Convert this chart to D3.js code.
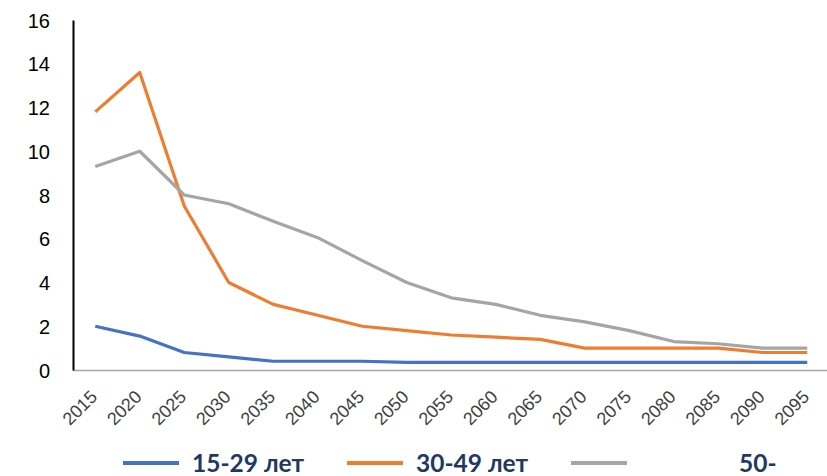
<!DOCTYPE html>
<html>
<head>
<meta charset="utf-8">
<script src="https://cdn.jsdelivr.net/npm/d3@7/dist/d3.min.js"></script>
<style>
  html, body { margin: 0; padding: 0; background: #fff; }
  svg { display: block; }
</style>
</head>
<body>
<svg id="chart" width="827" height="476"></svg>
<script>
// Years on the category axis
const years = [2015, 2020, 2025, 2030, 2035, 2040, 2045, 2050, 2055, 2060,
               2065, 2070, 2075, 2080, 2085, 2090, 2095];

// Series values by age group
const age15to29 = [2.0, 1.55, 0.8, 0.6, 0.4, 0.4, 0.4, 0.35, 0.35, 0.35,
                   0.35, 0.35, 0.35, 0.35, 0.35, 0.35, 0.35];
const age30to49 = [11.8, 13.6, 7.5, 4.0, 3.0, 2.5, 2.0, 1.8, 1.6, 1.5,
                   1.4, 1.0, 1.0, 1.0, 1.0, 0.8, 0.8];
const age50plus = [9.3, 10.0, 8.0, 7.6, 6.8, 6.05, 5.0, 4.0, 3.3, 3.0,
                   2.5, 2.2, 1.8, 1.3, 1.2, 1.0, 1.0];

const seriesNames = ["15-29 лет", "30-49 лет", "50-"];
const yTicks = [0, 2, 4, 6, 8, 10, 12, 14, 16];

const seriesList = [
  { name: seriesNames[0], values: age15to29, color: "#4472C4" },
  { name: seriesNames[1], values: age30to49, color: "#ED7D31" },
  { name: seriesNames[2], values: age50plus, color: "#A5A5A5" }
];

const svg = d3.select("#chart");
const plot = { left: 73, right: 829.5, top: 20, bottom: 370 };

const x = d3.scaleBand()
  .domain(years)
  .range([plot.left, plot.right]);

const y = d3.scaleLinear()
  .domain([0, 16])
  .range([plot.bottom, plot.top]);

// X axis: gray baseline with rotated year labels
const xAxis = svg.append("g")
  .attr("transform", `translate(0,${plot.bottom})`)
  .call(d3.axisBottom(x).tickSize(0).tickPadding(0));
xAxis.select(".domain")
  .attr("stroke", "#A6A6A6")
  .attr("stroke-width", 1.5)
  .attr("d", `M${plot.left},0.5H827`);
xAxis.selectAll(".tick text")
  .attr("font-family", "Liberation Sans, Arial, sans-serif")
  .attr("font-size", 18)
  .attr("fill", "#404040")
  .attr("text-anchor", "end")
  .attr("dy", null)
  .attr("y", 0)
  .attr("transform", "translate(3,28) rotate(-45)");

// Y axis: black vertical line with numeric labels
const yAxis = svg.append("g")
  .attr("transform", `translate(${plot.left},0)`)
  .call(d3.axisLeft(y).tickValues(yTicks).tickSize(0).tickPadding(23));
yAxis.select(".domain")
  .attr("stroke", "#000")
  .attr("stroke-width", 2);
yAxis.selectAll(".tick text")
  .attr("font-family", "Liberation Sans, Arial, sans-serif")
  .attr("font-size", 20)
  .attr("fill", "#000")
  .attr("dy", "0.36em");

// Lines
const line = d3.line()
  .x((d, i) => x(years[i]) + x.bandwidth() / 2)
  .y(d => y(d));

svg.append("g")
  .selectAll("path")
  .data(seriesList)
  .join("path")
  .attr("d", d => line(d.values))
  .attr("fill", "none")
  .attr("stroke", d => d.color)
  .attr("stroke-width", 3.2)
  .attr("stroke-linejoin", "round");

// Legend along the bottom
const legendX = [123, 347, 571];
const legend = svg.append("g")
  .selectAll("g")
  .data(seriesList)
  .join("g")
  .attr("transform", (d, i) => `translate(${legendX[i]},463)`);
legend.append("line")
  .attr("x1", 0).attr("x2", 56)
  .attr("y1", 0).attr("y2", 0)
  .attr("stroke", d => d.color)
  .attr("stroke-width", 4);
legend.append("text")
  .attr("x", (d, i) => i === 2 ? 168 : 69)
  .attr("y", 9)
  .attr("font-family", "Lato, Open Sans, sans-serif")
  .attr("font-weight", "bold")
  .attr("font-size", 24.5)
  .attr("fill", "#1F3864")
  .text(d => d.name);
</script>
</body>
</html>
